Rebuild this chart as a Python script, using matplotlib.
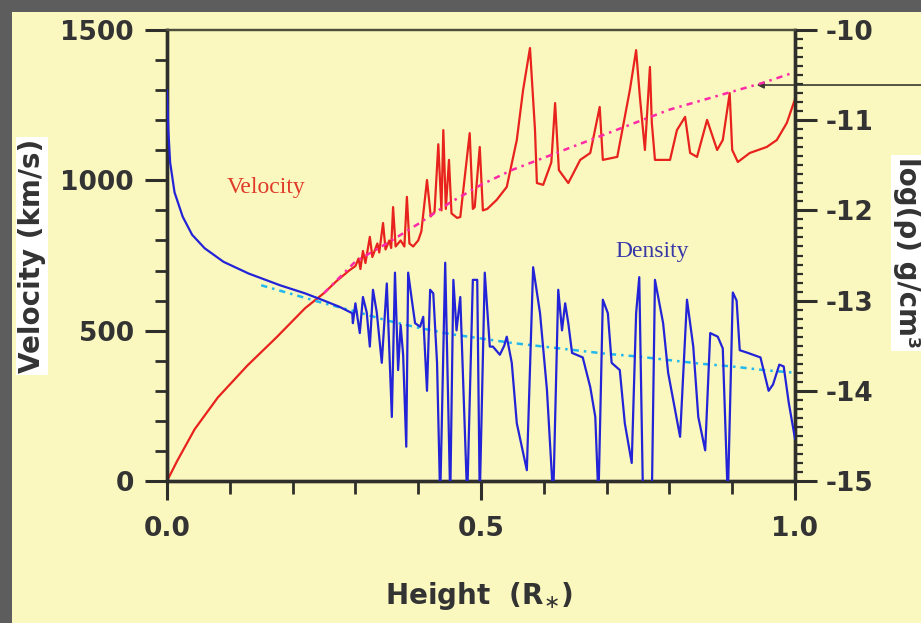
#!/usr/bin/env python3
"""Wind velocity and density profile against height above the photosphere."""
import matplotlib
matplotlib.use("Agg")
import matplotlib.pyplot as plt
from matplotlib.patches import Rectangle
from matplotlib.ticker import MultipleLocator

# height above the surface, in stellar radii
vel_x = [0, 0.016, 0.044, 0.081, 0.128, 0.174, 0.22, 0.25, 0.27, 0.29,
         0.300, 0.305, 0.308, 0.312, 0.316, 0.323, 0.327, 0.335, 0.338, 0.344,
         0.348, 0.354, 0.357, 0.360, 0.364, 0.372, 0.378, 0.382, 0.386, 0.392,
         0.400, 0.405, 0.414, 0.420, 0.426, 0.432, 0.437, 0.440, 0.444, 0.449,
         0.453, 0.462, 0.467, 0.482, 0.487, 0.490, 0.498, 0.503, 0.510, 0.525,
         0.541, 0.557, 0.567, 0.578, 0.586, 0.589, 0.599, 0.612, 0.618, 0.624,
         0.639, 0.658, 0.674, 0.689, 0.694, 0.717, 0.737, 0.747, 0.753, 0.761,
         0.769, 0.772, 0.777, 0.801, 0.812, 0.825, 0.833, 0.844, 0.860, 0.876,
         0.885, 0.896, 0.900, 0.909, 0.928, 0.955, 0.971, 0.987, 1.0]
# simulated velocity (km/s)
vel_v = [0, 66, 172, 278, 384, 477, 575, 625, 665, 700,
         715, 740, 705, 765, 725, 812, 745, 790, 760, 858,
         770, 800, 775, 911, 780, 800, 780, 945, 790, 780,
         800, 830, 1001, 880, 895, 1120, 900, 1167, 905, 1068,
         890, 875, 878, 1157, 905, 911, 1111, 900, 905, 935,
         978, 1134, 1300, 1440, 1167, 991, 985, 1060, 1257, 1034,
         991, 1068, 1091, 1244, 1068, 1078, 1300, 1433, 1277, 1101,
         1377, 1191, 1068, 1068, 1167, 1211, 1091, 1078, 1201, 1101,
         1134, 1290, 1101, 1061, 1091, 1111, 1134, 1191, 1270]

# smooth (steady) velocity law
vmod_x = [0.25, 0.30, 0.35, 0.40, 0.45, 0.5, 0.55, 0.6, 0.65, 0.7,
          0.75, 0.8, 0.85, 0.9, 0.95, 1.0]
vmod_v = [625, 730, 790, 855, 925, 985, 1035, 1075, 1115, 1155,
          1195, 1235, 1265, 1295, 1325, 1360]

# simulated density, log10(rho / g cm^-3)
rho_x = [0.0, 0.002, 0.005, 0.012, 0.025, 0.04, 0.06, 0.09, 0.13, 0.18,
         0.22, 0.25, 0.275, 0.295, 0.296, 0.300, 0.307, 0.312, 0.318, 0.323,
         0.328, 0.334, 0.342, 0.35, 0.358, 0.363, 0.368, 0.372, 0.376, 0.381,
         0.384, 0.390, 0.395, 0.403, 0.408, 0.414, 0.419, 0.424, 0.43, 0.435,
         0.443, 0.451, 0.456, 0.461, 0.467, 0.478, 0.487, 0.494, 0.498, 0.506,
         0.514, 0.519, 0.530, 0.537, 0.541, 0.549, 0.557, 0.573, 0.583, 0.594,
         0.605, 0.615, 0.623, 0.629, 0.634, 0.639, 0.645, 0.662, 0.674, 0.682,
         0.687, 0.694, 0.702, 0.708, 0.721, 0.729, 0.740, 0.747, 0.752, 0.758,
         0.772, 0.777, 0.790, 0.798, 0.817, 0.828, 0.838, 0.846, 0.857, 0.865,
         0.877, 0.885, 0.893, 0.901, 0.907, 0.912, 0.925, 0.945, 0.958, 0.965,
         0.975, 0.982, 0.99, 1.0]
rho_log = [-10.67, -11.10, -11.47, -11.80, -12.07, -12.27, -12.42, -12.57, -12.70, -12.83,
           -12.92, -13.00, -13.07, -13.14, -13.25, -13.03, -13.36, -12.96, -13.13, -13.51,
           -12.88, -13.13, -13.69, -12.81, -14.29, -12.69, -13.77, -13.27, -13.60, -14.62,
           -12.69, -13.00, -13.25, -13.29, -13.18, -14.00, -12.88, -12.92, -13.69, -15.2,
           -12.58, -15.2, -12.77, -13.33, -12.96, -15.2, -12.77, -12.77, -15.2, -12.69,
           -13.51, -13.51, -13.60, -13.50, -13.40, -13.69, -14.36, -14.88, -12.63, -13.14,
           -13.99, -15.2, -12.88, -13.33, -13.03, -13.25, -13.58, -13.63, -13.96, -14.29,
           -15.2, -12.99, -13.14, -13.69, -13.77, -14.36, -14.80, -13.14, -12.74, -15.2,
           -15.2, -12.77, -13.25, -13.80, -14.51, -12.99, -13.51, -14.29, -14.66, -13.36,
           -13.40, -13.53, -15.2, -12.91, -13.00, -13.55, -13.58, -13.63, -14.00, -13.93,
           -13.71, -13.73, -14.13, -14.53]

# smooth density law
rmod_x = [0.15, 0.2, 0.25, 0.3, 0.35, 0.4, 0.45, 0.5, 0.55, 0.6,
          0.65, 0.7, 0.75, 0.8, 0.85, 0.9, 0.95, 1.0]
rmod_log = [-12.83, -12.93, -13.03, -13.12, -13.22, -13.30, -13.37, -13.42, -13.47, -13.51,
            -13.55, -13.59, -13.62, -13.66, -13.70, -13.73, -13.77, -13.80]

PANEL = "#faf8be"
INK = "#2e2e2a"

plt.rcParams["axes.unicode_minus"] = False
plt.rcParams["font.family"] = "DejaVu Sans"

fig = plt.figure(figsize=(9.21, 6.23), dpi=100, facecolor="#5d5d5d")
# pale panel behind everything, leaving a dark strip top and left
fig.add_artist(Rectangle((12 / 921, 0), 1, 1 - 12 / 623, transform=fig.transFigure,
                         facecolor=PANEL, edgecolor="none", zorder=-10))

ax = fig.add_axes([167 / 921, 1 - 481 / 623, 628 / 921, 451 / 623])
ax.set_facecolor(PANEL)
ax2 = ax.twinx()

ax.plot(vel_x, vel_v, color="#e8221c", lw=1.6, zorder=3)
ax.plot(vmod_x, vmod_v, color="#ff2aa8", lw=1.8, dashes=(2.5, 2, 1, 2), zorder=4)
ax2.plot(rmod_x, rmod_log, color="#22b8ee", lw=1.8, dashes=(2.5, 2, 1, 2), zorder=2)
ax2.plot(rho_x, rho_log, color="#2323d8", lw=1.6, zorder=3)

ax.set_xlim(0, 1)
ax.set_ylim(0, 1500)
ax2.set_ylim(-15, -10)

ax.xaxis.set_major_locator(MultipleLocator(0.5))
ax.xaxis.set_minor_locator(MultipleLocator(0.1))
ax.yaxis.set_major_locator(MultipleLocator(500))
ax.yaxis.set_minor_locator(MultipleLocator(100))
ax2.yaxis.set_major_locator(MultipleLocator(1))
ax2.yaxis.set_minor_locator(MultipleLocator(0.1))
ax.set_xticks([0, 0.5, 1.0], ["0.0", "0.5", "1.0"])
ax.set_yticks([0, 500, 1000, 1500], ["0", "500", "1000", "1500"])
ax2.set_yticks([-15, -14, -13, -12, -11, -10], ["-15", "-14", "-13", "-12", "-11", "-10"])

tick_font = dict(labelsize=19, labelcolor="#333333", color=INK)
ax.tick_params(axis="x", which="major", length=14, width=2.2, pad=11, **tick_font)
ax.tick_params(axis="x", which="minor", length=9, width=2.0, color=INK)
ax.tick_params(axis="y", which="major", length=16, width=2.2, pad=8, **tick_font)
ax.tick_params(axis="y", which="minor", length=8.5, width=2.0, color=INK)
ax2.tick_params(axis="y", which="major", length=16, width=2.2, pad=6, **tick_font)
ax2.tick_params(axis="y", which="minor", length=5.5, width=1.6, color=INK)
for lab in ax.get_xticklabels() + ax.get_yticklabels() + ax2.get_yticklabels():
    lab.set_fontweight("bold")

for a in (ax, ax2):
    for side in ("left", "right", "bottom"):
        a.spines[side].set_color(INK)
        a.spines[side].set_linewidth(2.4)
    a.spines["top"].set_color("#4e4e3c")
    a.spines["top"].set_linewidth(1.6)

ax.text(0.158, 975, "Velocity", color="#e03a2a", fontsize=17, family="Liberation Serif",
        ha="center", va="center")
ax2.text(0.772, -12.46, "Density", color="#3838a8", fontsize=17, family="Liberation Serif",
         ha="center", va="center")

# arrow from outside the frame onto the smooth velocity law
ax.annotate("", xy=(0.939, 1317), xytext=(1.26, 1317), annotation_clip=False,
            arrowprops=dict(arrowstyle="-|>", color="#3a3a30", lw=1.2,
                            mutation_scale=10, shrinkA=0, shrinkB=0))

fig.text(32 / 921, 1 - 256 / 623, "Velocity (km/s)", rotation=90, fontsize=20,
         fontweight="bold", color="#333333", ha="center", va="center",
         bbox=dict(facecolor="white", edgecolor="none", pad=1.5))
fig.text(907 / 921, 1 - 253 / 623, "log(ρ) g/cm³", rotation=-90, fontsize=20,
         fontweight="bold", color="#333333", ha="center", va="center",
         bbox=dict(facecolor="white", edgecolor="none", pad=1.5))
fig.text(479 / 921, 1 - 596 / 623, r"Height  (R$_{\ast}$)", fontsize=20,
         fontweight="bold", color="#333333", ha="center", va="center")

fig.savefig("out.png", dpi=100, facecolor=fig.get_facecolor())
